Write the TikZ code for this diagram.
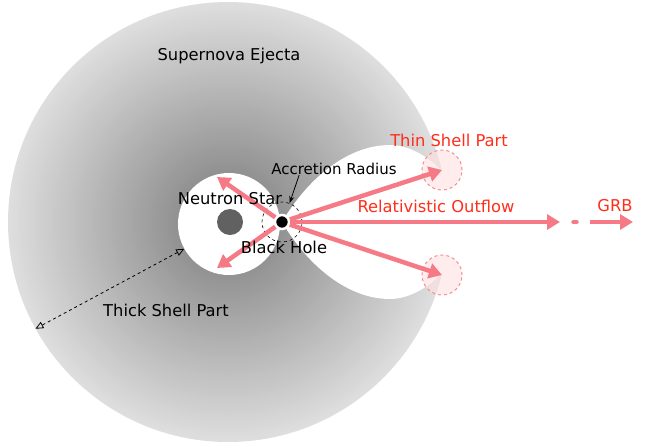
\documentclass[tikz,border=0pt]{standalone}
\usepackage{fontspec}
\setmainfont{DejaVu Sans}
\usetikzlibrary{arrows.meta,positioning}

\definecolor{jetpink}{RGB}{245,122,134}
\definecolor{labelred}{RGB}{255,45,25}
\definecolor{shellpink}{RGB}{244,140,146}

\tikzset{
    %Define standard arrow tip
    >={Triangle[length=13pt,width=15pt]},
    ejecta/.style={
      circle,
      minimum size=440pt, inner sep=0pt},
    cavity/.style={
      circle,
      fill=white,
      minimum size=102pt, inner sep=0pt},
    nstar/.style={
      circle,
      fill=black!62,
      minimum size=26pt, inner sep=0pt},
    hole/.style={
      circle,
      fill=black, draw=white, line width=2.5pt,
      minimum size=14pt, inner sep=0pt},
    accretion/.style={
      circle,
      draw=black, dashed, line width=0.6pt,
      minimum size=40pt, inner sep=0pt},
    thinshell/.style={
      circle,
      draw=shellpink, dashed, line width=1pt,
      fill=red!12, fill opacity=0.6,
      minimum size=40pt, inner sep=0pt},
    jet/.style={
      ->,
      draw=jetpink, line width=4.5pt},
    accarrow/.style={
      -{Stealth[length=7pt,width=5pt]},
      line width=0.8pt},
    dimarrow/.style={
      {Triangle[open,length=8pt,width=7pt]}-{Triangle[open,length=8pt,width=7pt]},
      dashed, line width=0.8pt},
    lbl/.style={
      inner sep=0pt,
      font=\fontsize{16.3}{19}\selectfont},
    smalllbl/.style={
      inner sep=0pt,
      font=\fontsize{15}{17}\selectfont},
    redlbl/.style={
      lbl,
      text=labelred},
}

\begin{document}
\begin{tikzpicture}[x=1pt,y=-1pt,node distance=4pt]
    \useasboundingbox (0,0) rectangle (652,445);

    % ejecta, lighter towards the rim
    \node (ejecta) [ejecta] at (228,222) {};
    \foreach \k in {0,...,87}{
      \pgfmathsetmacro\rad{220-2.5*\k}
      \pgfmathsetmacro\ink{52-39*\rad/220}
      \fill [black!\ink] (ejecta.center) circle [radius=\rad pt];
    }

    % cavity blown into the ejecta
    \node (cavity) [cavity] at (229,224) {};
    \fill [white] (282,222) .. controls (310,175) and (350,145) .. (390,145)
          .. controls (425,145) and (465,185) .. (465,222)
          .. controls (465,259) and (425,299) .. (390,299)
          .. controls (350,299) and (310,269) .. (282,222) -- cycle;

    \node (ns) [nstar] at (230,222) {};
    \node (thinup) [thinshell] at (442,170) {};
    \node (thindown) [thinshell] at (442,275) {};
    \node (acc) [accretion] at (282,222) {};
    \node (bh) [hole] at (282,222) {};

    \coordinate (nsup) at (217,177);
    \coordinate (nsdown) at (217,268);
    \coordinate (jettip) at (560,222);
    \coordinate (gap) at (575,222);
    \coordinate (grbtail) at (590,222);
    \coordinate (grbtip) at (633,222);

    % outflows from the black hole
    \draw [jet] (bh) -- (nsup);
    \draw [jet] (bh) -- (nsdown);
    \draw [jet] (bh) -- (thinup.center);
    \draw [jet] (bh) -- (thindown.center);
    \draw [jet] (bh) -- (jettip);
    \draw [jetpink, line width=4.5pt, line cap=round]
          ([xshift=-1.5pt]gap) -- ([xshift=1.5pt]gap);
    \draw [jet] (grbtail) -- (grbtip);

    % labels
    \node (ejectalbl) [lbl] at (229,56)
          {Supernova Ejecta};
    \node (nslbl) [lbl] [above=4pt of ns]
          {Neutron Star};
    \node (bhlbl) [lbl] [below=11pt of bh, xshift=2pt]
          {Black Hole};
    \node (acclbl) [smalllbl] at (334,169)
          {Accretion Radius};
    \draw [accarrow] ([xshift=28pt]acclbl.south west) -- (acc.68);
    \node (thinlbl) [redlbl] at (449,140)
          {Thin Shell Part};
    \node (jetlbl) [redlbl] at (436,206)
          {Relativistic Outflow};
    \node (grblbl) [redlbl] at (615,206)
          {GRB};
    \node (thicklbl) [lbl] at (166,310)
          {Thick Shell Part};
    \draw [dimarrow] (cavity.209) -- (ejecta.209);
\end{tikzpicture}
\end{document}
